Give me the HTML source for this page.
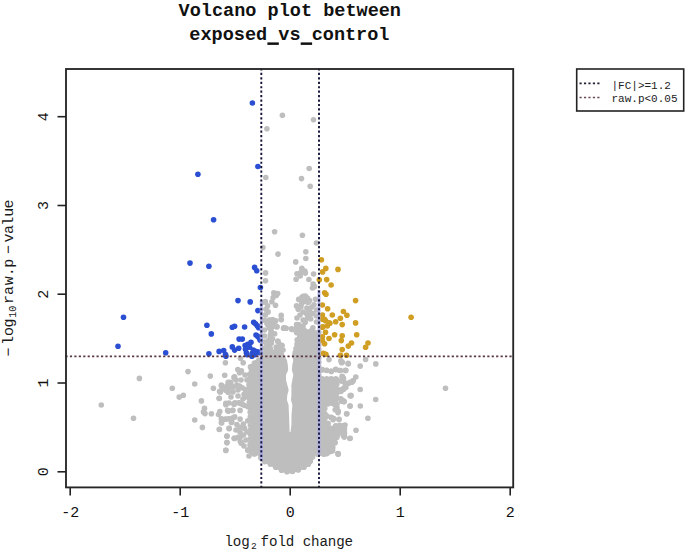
<!DOCTYPE html><html><head><meta charset="utf-8"><style>html,body{margin:0;padding:0;background:#fff;}svg{display:block}</style></head><body>
<svg width="685" height="549" viewBox="0 0 685 549">
<rect width="685" height="549" fill="#fff"/>
<g font-family="Liberation Mono, monospace" font-weight="bold" font-size="18.55" fill="#111" text-anchor="middle">
<text x="289.8" y="15.6">Volcano plot between</text>
<text x="289.4" y="40">exposed vs control</text>
<rect x="267.4" y="42.4" width="11.4" height="2.5" fill="#111"/><rect x="300.7" y="42.4" width="11.4" height="2.5" fill="#111"/>
</g>
<path fill="#bebebe" d="M262,352 L283,352 L288,357 L292.5,357 L295,352 L297,340 L297,327 L303,326 L310,331 L314,331 L320,330 L320,377.5 L338,377.5 L338,400 L330,404 L326,406 L326,426 L339,428 L339,436 L337,440 L334,445 L334,450 L328,455 L320,456 L315,455 L312.3,460 L310.5,463.7 L307.8,466.4 L301.4,470.1 L295.9,471.9 L289.6,473.5 L283.7,472.5 L278.3,470 L271.9,466.4 L267.3,464 L261.4,461.5 L258,455 L252,455 L249.5,450 L249,410 L248,400 L248.5,372 L252,365 L255,360 L262,358 Z"/>

<circle cx="284.7" cy="355.3" r="2.8" fill="#bebebe"/><circle cx="290.2" cy="358.2" r="2.8" fill="#bebebe"/><circle cx="294.8" cy="355.0" r="2.8" fill="#bebebe"/><circle cx="318.8" cy="332.2" r="2.8" fill="#bebebe"/><circle cx="318.8" cy="336.5" r="2.8" fill="#bebebe"/><circle cx="318.8" cy="340.8" r="2.8" fill="#bebebe"/><circle cx="318.8" cy="345.1" r="2.8" fill="#bebebe"/><circle cx="318.8" cy="349.4" r="2.8" fill="#bebebe"/><circle cx="318.8" cy="353.8" r="2.8" fill="#bebebe"/><circle cx="318.8" cy="358.1" r="2.8" fill="#bebebe"/><circle cx="318.8" cy="362.4" r="2.8" fill="#bebebe"/><circle cx="318.8" cy="366.7" r="2.8" fill="#bebebe"/><circle cx="318.8" cy="371.0" r="2.8" fill="#bebebe"/><circle cx="318.8" cy="375.3" r="2.8" fill="#bebebe"/><circle cx="322.2" cy="378.7" r="2.8" fill="#bebebe"/><circle cx="326.8" cy="378.7" r="2.8" fill="#bebebe"/><circle cx="331.2" cy="378.7" r="2.8" fill="#bebebe"/><circle cx="335.8" cy="378.7" r="2.8" fill="#bebebe"/><circle cx="336.8" cy="379.8" r="2.8" fill="#bebebe"/><circle cx="336.8" cy="384.2" r="2.8" fill="#bebebe"/><circle cx="336.8" cy="388.8" r="2.8" fill="#bebebe"/><circle cx="336.8" cy="393.2" r="2.8" fill="#bebebe"/><circle cx="336.8" cy="397.8" r="2.8" fill="#bebebe"/><circle cx="335.5" cy="399.9" r="2.8" fill="#bebebe"/><circle cx="331.5" cy="401.9" r="2.8" fill="#bebebe"/><circle cx="327.5" cy="403.9" r="2.8" fill="#bebebe"/><circle cx="324.8" cy="408.5" r="2.8" fill="#bebebe"/><circle cx="324.8" cy="413.5" r="2.8" fill="#bebebe"/><circle cx="324.8" cy="418.5" r="2.8" fill="#bebebe"/><circle cx="324.8" cy="423.5" r="2.8" fill="#bebebe"/><circle cx="328.0" cy="427.5" r="2.8" fill="#bebebe"/><circle cx="332.3" cy="428.2" r="2.8" fill="#bebebe"/><circle cx="336.7" cy="428.9" r="2.8" fill="#bebebe"/><circle cx="337.8" cy="432.0" r="2.8" fill="#bebebe"/><circle cx="336.9" cy="437.5" r="2.8" fill="#bebebe"/><circle cx="334.5" cy="441.9" r="2.8" fill="#bebebe"/><circle cx="332.8" cy="447.5" r="2.8" fill="#bebebe"/><circle cx="330.2" cy="451.6" r="2.8" fill="#bebebe"/><circle cx="323.9" cy="454.3" r="2.8" fill="#bebebe"/><circle cx="317.7" cy="454.3" r="2.8" fill="#bebebe"/><circle cx="312.6" cy="456.9" r="2.8" fill="#bebebe"/><circle cx="310.3" cy="461.3" r="2.8" fill="#bebebe"/><circle cx="308.3" cy="464.2" r="2.8" fill="#bebebe"/><circle cx="304.0" cy="467.2" r="2.8" fill="#bebebe"/><circle cx="298.3" cy="469.9" r="2.8" fill="#bebebe"/><circle cx="292.5" cy="471.5" r="2.8" fill="#bebebe"/><circle cx="286.9" cy="471.8" r="2.8" fill="#bebebe"/><circle cx="281.5" cy="470.2" r="2.8" fill="#bebebe"/><circle cx="275.7" cy="467.2" r="2.8" fill="#bebebe"/><circle cx="270.2" cy="464.1" r="2.8" fill="#bebebe"/><circle cx="264.8" cy="461.6" r="2.8" fill="#bebebe"/><circle cx="260.8" cy="457.7" r="2.8" fill="#bebebe"/><circle cx="255.0" cy="453.8" r="2.8" fill="#bebebe"/><circle cx="251.8" cy="452.0" r="2.8" fill="#bebebe"/><circle cx="250.7" cy="447.8" r="2.8" fill="#bebebe"/><circle cx="250.6" cy="443.3" r="2.8" fill="#bebebe"/><circle cx="250.6" cy="438.9" r="2.8" fill="#bebebe"/><circle cx="250.5" cy="434.4" r="2.8" fill="#bebebe"/><circle cx="250.4" cy="430.0" r="2.8" fill="#bebebe"/><circle cx="250.4" cy="425.5" r="2.8" fill="#bebebe"/><circle cx="250.3" cy="421.1" r="2.8" fill="#bebebe"/><circle cx="250.3" cy="416.7" r="2.8" fill="#bebebe"/><circle cx="250.2" cy="412.2" r="2.8" fill="#bebebe"/><circle cx="249.9" cy="407.4" r="2.8" fill="#bebebe"/><circle cx="249.4" cy="402.4" r="2.8" fill="#bebebe"/><circle cx="249.2" cy="397.7" r="2.8" fill="#bebebe"/><circle cx="249.3" cy="393.0" r="2.8" fill="#bebebe"/><circle cx="249.4" cy="388.4" r="2.8" fill="#bebebe"/><circle cx="249.5" cy="383.7" r="2.8" fill="#bebebe"/><circle cx="249.6" cy="379.0" r="2.8" fill="#bebebe"/><circle cx="249.7" cy="374.4" r="2.8" fill="#bebebe"/><circle cx="251.3" cy="369.0" r="2.8" fill="#bebebe"/><circle cx="254.5" cy="363.1" r="2.8" fill="#bebebe"/><circle cx="258.8" cy="360.2" r="2.8" fill="#bebebe"/><circle cx="263.2" cy="355.0" r="2.8" fill="#bebebe"/>
<path fill="#fff" d="M283.5,345 L284,350 L284.1,355 L286.9,360 L287.8,365 L288.2,370 L286,375 L286,380 L287.3,385 L288.7,390 L287.3,395 L286.9,400 L288.6,405 L289,415 L289.4,425 L289.6,432 L290.5,432 L291.4,425 L291.5,415 L292.4,405 L291,400 L291.4,395 L291.4,390 L291.4,385 L292.3,380 L293.3,375 L291.9,370 L292.3,365 L293.3,360 L291.4,355 L292.3,350 L294.4,345 L295,335 L290,333 Z"/>
<g fill="#bebebe"><circle cx="282.4" cy="115.3" r="2.80"/><circle cx="313.5" cy="119.7" r="2.80"/><circle cx="266.9" cy="128.7" r="2.80"/><circle cx="309.2" cy="168.5" r="2.80"/><circle cx="265.8" cy="177.5" r="2.80"/><circle cx="301.5" cy="178.6" r="2.80"/><circle cx="310.2" cy="186.2" r="2.80"/><circle cx="274.6" cy="231.7" r="2.80"/><circle cx="302.4" cy="235.2" r="2.80"/><circle cx="316.4" cy="243.0" r="2.80"/><circle cx="262.9" cy="247.6" r="2.80"/><circle cx="278.0" cy="254.1" r="2.80"/><circle cx="305.8" cy="251.7" r="2.80"/><circle cx="305.8" cy="258.5" r="2.80"/><circle cx="295.7" cy="261.9" r="2.80"/><circle cx="301.9" cy="268.4" r="2.80"/><circle cx="265.6" cy="272.9" r="2.80"/><circle cx="265.5" cy="280.7" r="2.80"/><circle cx="297.0" cy="273.8" r="2.80"/><circle cx="300.9" cy="272.4" r="2.80"/><circle cx="305.3" cy="273.1" r="2.80"/><circle cx="300.2" cy="276.0" r="2.80"/><circle cx="296.1" cy="279.3" r="2.80"/><circle cx="313.6" cy="274.0" r="2.80"/><circle cx="308.9" cy="279.5" r="2.80"/><circle cx="304.8" cy="271.1" r="2.80"/><circle cx="313.1" cy="284.1" r="2.80"/><circle cx="314.6" cy="286.6" r="2.80"/><circle cx="312.5" cy="288.0" r="2.80"/><circle cx="273.8" cy="292.9" r="2.80"/><circle cx="277.7" cy="293.5" r="2.80"/><circle cx="273.1" cy="297.5" r="2.80"/><circle cx="271.9" cy="301.7" r="2.80"/><circle cx="275.5" cy="305.2" r="2.80"/><circle cx="276.3" cy="295.5" r="2.80"/><circle cx="264.5" cy="302.2" r="2.80"/><circle cx="265.4" cy="301.6" r="2.80"/><circle cx="267.6" cy="305.9" r="2.80"/><circle cx="265.9" cy="309.2" r="2.80"/><circle cx="268.1" cy="311.9" r="2.80"/><circle cx="265.4" cy="314.9" r="2.80"/><circle cx="281.2" cy="315.4" r="2.80"/><circle cx="281.2" cy="319.6" r="2.80"/><circle cx="264.5" cy="320.3" r="2.80"/><circle cx="269.8" cy="320.1" r="2.80"/><circle cx="273.6" cy="320.7" r="2.80"/><circle cx="275.2" cy="321.2" r="2.80"/><circle cx="267.0" cy="323.4" r="2.80"/><circle cx="271.4" cy="323.4" r="2.80"/><circle cx="276.9" cy="326.7" r="2.80"/><circle cx="272.5" cy="326.7" r="2.80"/><circle cx="269.2" cy="327.8" r="2.80"/><circle cx="284.0" cy="327.8" r="2.80"/><circle cx="286.1" cy="328.3" r="2.80"/><circle cx="292.2" cy="329.4" r="2.80"/><circle cx="271.4" cy="332.2" r="2.80"/><circle cx="274.7" cy="333.8" r="2.80"/><circle cx="270.3" cy="336.5" r="2.80"/><circle cx="272.5" cy="338.7" r="2.80"/><circle cx="268.1" cy="340.9" r="2.80"/><circle cx="271.4" cy="343.1" r="2.80"/><circle cx="267.0" cy="345.3" r="2.80"/><circle cx="269.2" cy="347.5" r="2.80"/><circle cx="265.9" cy="350.7" r="2.80"/><circle cx="270.3" cy="351.8" r="2.80"/><circle cx="278.0" cy="341.4" r="2.80"/><circle cx="281.8" cy="345.3" r="2.80"/><circle cx="278.5" cy="347.5" r="2.80"/><circle cx="276.3" cy="350.7" r="2.80"/><circle cx="280.1" cy="351.8" r="2.80"/><circle cx="264.5" cy="330.0" r="2.80"/><circle cx="264.5" cy="336.0" r="2.80"/><circle cx="264.5" cy="342.0" r="2.80"/><circle cx="264.5" cy="348.0" r="2.80"/><circle cx="276.0" cy="355.0" r="2.80"/><circle cx="283.0" cy="350.0" r="2.80"/><circle cx="303.1" cy="296.4" r="2.80"/><circle cx="306.7" cy="297.9" r="2.80"/><circle cx="300.2" cy="299.3" r="2.80"/><circle cx="308.2" cy="302.2" r="2.80"/><circle cx="301.6" cy="303.7" r="2.80"/><circle cx="315.5" cy="299.3" r="2.80"/><circle cx="298.7" cy="299.4" r="2.80"/><circle cx="302.0" cy="297.2" r="2.80"/><circle cx="305.3" cy="296.1" r="2.80"/><circle cx="307.5" cy="298.3" r="2.80"/><circle cx="303.1" cy="301.6" r="2.80"/><circle cx="306.4" cy="301.6" r="2.80"/><circle cx="309.6" cy="300.5" r="2.80"/><circle cx="296.5" cy="305.9" r="2.80"/><circle cx="298.2" cy="309.2" r="2.80"/><circle cx="300.9" cy="307.0" r="2.80"/><circle cx="306.9" cy="308.1" r="2.80"/><circle cx="309.6" cy="309.2" r="2.80"/><circle cx="311.8" cy="307.0" r="2.80"/><circle cx="314.0" cy="304.8" r="2.80"/><circle cx="306.4" cy="313.6" r="2.80"/><circle cx="309.6" cy="314.7" r="2.80"/><circle cx="312.9" cy="313.6" r="2.80"/><circle cx="307.5" cy="318.0" r="2.80"/><circle cx="310.7" cy="319.0" r="2.80"/><circle cx="303.1" cy="320.1" r="2.80"/><circle cx="305.3" cy="322.3" r="2.80"/><circle cx="298.7" cy="324.5" r="2.80"/><circle cx="296.5" cy="327.8" r="2.80"/><circle cx="299.8" cy="327.8" r="2.80"/><circle cx="303.1" cy="326.1" r="2.80"/><circle cx="312.9" cy="327.8" r="2.80"/><circle cx="310.7" cy="331.1" r="2.80"/><circle cx="314.0" cy="332.2" r="2.80"/><circle cx="316.5" cy="310.0" r="2.80"/><circle cx="316.5" cy="316.0" r="2.80"/><circle cx="316.5" cy="322.0" r="2.80"/><circle cx="300.0" cy="315.0" r="2.80"/><circle cx="297.0" cy="318.0" r="2.80"/><circle cx="303.0" cy="312.0" r="2.80"/><circle cx="139.4" cy="378.4" r="2.80"/><circle cx="101.3" cy="405.0" r="2.80"/><circle cx="133.5" cy="418.2" r="2.80"/><circle cx="188.0" cy="371.6" r="2.80"/><circle cx="194.7" cy="384.0" r="2.80"/><circle cx="172.3" cy="388.2" r="2.80"/><circle cx="183.3" cy="395.2" r="2.80"/><circle cx="179.2" cy="397.1" r="2.80"/><circle cx="210.3" cy="376.1" r="2.80"/><circle cx="213.4" cy="388.3" r="2.80"/><circle cx="201.4" cy="400.9" r="2.80"/><circle cx="204.5" cy="408.4" r="2.80"/><circle cx="203.5" cy="411.9" r="2.80"/><circle cx="205.0" cy="413.6" r="2.80"/><circle cx="211.4" cy="413.8" r="2.80"/><circle cx="194.7" cy="420.0" r="2.80"/><circle cx="202.4" cy="427.4" r="2.80"/><circle cx="225.4" cy="362.8" r="2.80"/><circle cx="224.7" cy="375.2" r="2.80"/><circle cx="234.0" cy="377.4" r="2.80"/><circle cx="221.4" cy="386.1" r="2.80"/><circle cx="228.6" cy="384.0" r="2.80"/><circle cx="230.7" cy="382.9" r="2.80"/><circle cx="226.4" cy="387.8" r="2.80"/><circle cx="229.6" cy="387.8" r="2.80"/><circle cx="228.0" cy="391.6" r="2.80"/><circle cx="220.4" cy="391.9" r="2.80"/><circle cx="219.3" cy="398.5" r="2.80"/><circle cx="225.8" cy="404.7" r="2.80"/><circle cx="234.0" cy="404.2" r="2.80"/><circle cx="219.8" cy="411.5" r="2.80"/><circle cx="218.5" cy="414.5" r="2.80"/><circle cx="228.0" cy="410.7" r="2.80"/><circle cx="232.9" cy="410.2" r="2.80"/><circle cx="221.4" cy="418.7" r="2.80"/><circle cx="221.4" cy="422.6" r="2.80"/><circle cx="225.3" cy="419.3" r="2.80"/><circle cx="228.6" cy="418.7" r="2.80"/><circle cx="231.8" cy="422.0" r="2.80"/><circle cx="232.9" cy="417.7" r="2.80"/><circle cx="228.6" cy="411.1" r="2.80"/><circle cx="219.3" cy="429.5" r="2.80"/><circle cx="229.1" cy="428.4" r="2.80"/><circle cx="226.9" cy="436.2" r="2.80"/><circle cx="234.6" cy="438.4" r="2.80"/><circle cx="226.9" cy="442.6" r="2.80"/><circle cx="225.8" cy="450.4" r="2.80"/><circle cx="234.1" cy="403.8" r="2.80"/><circle cx="240.1" cy="403.3" r="2.80"/><circle cx="244.5" cy="405.5" r="2.80"/><circle cx="247.8" cy="406.6" r="2.80"/><circle cx="251.1" cy="401.6" r="2.80"/><circle cx="254.3" cy="404.4" r="2.80"/><circle cx="227.6" cy="410.4" r="2.80"/><circle cx="232.5" cy="410.4" r="2.80"/><circle cx="240.1" cy="410.4" r="2.80"/><circle cx="221.6" cy="419.1" r="2.80"/><circle cx="225.9" cy="419.1" r="2.80"/><circle cx="230.3" cy="419.1" r="2.80"/><circle cx="234.7" cy="416.9" r="2.80"/><circle cx="240.1" cy="419.1" r="2.80"/><circle cx="221.6" cy="423.0" r="2.80"/><circle cx="231.4" cy="422.4" r="2.80"/><circle cx="236.9" cy="424.6" r="2.80"/><circle cx="240.1" cy="427.3" r="2.80"/><circle cx="243.4" cy="424.0" r="2.80"/><circle cx="244.5" cy="428.4" r="2.80"/><circle cx="247.8" cy="420.8" r="2.80"/><circle cx="219.4" cy="429.3" r="2.80"/><circle cx="229.2" cy="428.4" r="2.80"/><circle cx="227.0" cy="436.1" r="2.80"/><circle cx="234.1" cy="438.3" r="2.80"/><circle cx="238.0" cy="437.2" r="2.80"/><circle cx="241.2" cy="436.1" r="2.80"/><circle cx="243.4" cy="435.0" r="2.80"/><circle cx="240.1" cy="441.0" r="2.80"/><circle cx="241.2" cy="443.2" r="2.80"/><circle cx="227.0" cy="442.6" r="2.80"/><circle cx="225.9" cy="450.3" r="2.80"/><circle cx="247.8" cy="450.3" r="2.80"/><circle cx="253.8" cy="453.6" r="2.80"/><circle cx="240.5" cy="358.2" r="2.80"/><circle cx="243.2" cy="362.7" r="2.80"/><circle cx="237.8" cy="369.6" r="2.80"/><circle cx="241.4" cy="370.9" r="2.80"/><circle cx="239.6" cy="372.8" r="2.80"/><circle cx="234.6" cy="376.9" r="2.80"/><circle cx="250.5" cy="366.8" r="2.80"/><circle cx="253.3" cy="365.9" r="2.80"/><circle cx="221.4" cy="385.1" r="2.80"/><circle cx="228.2" cy="382.3" r="2.80"/><circle cx="230.5" cy="382.3" r="2.80"/><circle cx="226.8" cy="386.0" r="2.80"/><circle cx="229.6" cy="385.1" r="2.80"/><circle cx="219.6" cy="391.4" r="2.80"/><circle cx="222.7" cy="388.7" r="2.80"/><circle cx="225.9" cy="390.5" r="2.80"/><circle cx="228.2" cy="392.3" r="2.80"/><circle cx="233.2" cy="386.9" r="2.80"/><circle cx="236.9" cy="385.1" r="2.80"/><circle cx="239.6" cy="386.0" r="2.80"/><circle cx="242.3" cy="387.8" r="2.80"/><circle cx="245.1" cy="389.6" r="2.80"/><circle cx="244.1" cy="394.2" r="2.80"/><circle cx="246.9" cy="395.1" r="2.80"/><circle cx="245.1" cy="396.9" r="2.80"/><circle cx="219.1" cy="398.3" r="2.80"/><circle cx="225.9" cy="403.3" r="2.80"/><circle cx="235.0" cy="402.8" r="2.80"/><circle cx="238.7" cy="402.8" r="2.80"/><circle cx="242.3" cy="404.2" r="2.80"/><circle cx="247.7" cy="450.0" r="2.80"/><circle cx="254.1" cy="453.7" r="2.80"/><circle cx="258.2" cy="452.8" r="2.80"/><circle cx="241.8" cy="442.8" r="2.80"/><circle cx="250.0" cy="445.0" r="2.80"/><circle cx="246.0" cy="440.0" r="2.80"/><circle cx="243.0" cy="399.0" r="2.80"/><circle cx="247.0" cy="380.0" r="2.80"/><circle cx="245.0" cy="375.0" r="2.80"/><circle cx="249.0" cy="385.0" r="2.80"/><circle cx="238.0" cy="396.0" r="2.80"/><circle cx="233.0" cy="392.0" r="2.80"/><circle cx="236.0" cy="380.0" r="2.80"/><circle cx="241.0" cy="380.0" r="2.80"/><circle cx="238.0" cy="390.0" r="2.80"/><circle cx="231.0" cy="397.0" r="2.80"/><circle cx="229.0" cy="403.0" r="2.80"/><circle cx="240.0" cy="432.0" r="2.80"/><circle cx="236.0" cy="430.0" r="2.80"/><circle cx="247.0" cy="432.0" r="2.80"/><circle cx="244.0" cy="446.0" r="2.80"/><circle cx="249.0" cy="456.0" r="2.80"/><circle cx="268.9" cy="320.2" r="2.80"/><circle cx="272.6" cy="319.5" r="2.80"/><circle cx="275.5" cy="320.9" r="2.80"/><circle cx="267.5" cy="324.6" r="2.80"/><circle cx="270.4" cy="325.3" r="2.80"/><circle cx="273.7" cy="326.0" r="2.80"/><circle cx="276.9" cy="326.7" r="2.80"/><circle cx="281.3" cy="319.5" r="2.80"/><circle cx="283.5" cy="328.2" r="2.80"/><circle cx="285.7" cy="328.2" r="2.80"/><circle cx="291.5" cy="328.9" r="2.80"/><circle cx="296.6" cy="324.6" r="2.80"/><circle cx="296.6" cy="332.6" r="2.80"/><circle cx="271.1" cy="331.1" r="2.80"/><circle cx="270.4" cy="334.8" r="2.80"/><circle cx="272.6" cy="333.3" r="2.80"/><circle cx="269.7" cy="339.9" r="2.80"/><circle cx="271.1" cy="342.8" r="2.80"/><circle cx="268.9" cy="345.7" r="2.80"/><circle cx="270.4" cy="348.6" r="2.80"/><circle cx="268.2" cy="351.5" r="2.80"/><circle cx="277.7" cy="341.3" r="2.80"/><circle cx="279.9" cy="344.9" r="2.80"/><circle cx="282.0" cy="345.7" r="2.80"/><circle cx="276.2" cy="347.1" r="2.80"/><circle cx="278.4" cy="349.3" r="2.80"/><circle cx="280.6" cy="350.1" r="2.80"/><circle cx="275.5" cy="351.5" r="2.80"/><circle cx="277.7" cy="353.0" r="2.80"/><circle cx="297.2" cy="339.9" r="2.80"/><circle cx="297.0" cy="344.2" r="2.80"/><circle cx="296.0" cy="348.6" r="2.80"/><circle cx="295.3" cy="352.2" r="2.80"/><circle cx="329.0" cy="359.6" r="2.80"/><circle cx="340.9" cy="360.9" r="2.80"/><circle cx="342.3" cy="362.3" r="2.80"/><circle cx="348.3" cy="364.0" r="2.80"/><circle cx="365.6" cy="359.5" r="2.80"/><circle cx="360.2" cy="366.1" r="2.80"/><circle cx="375.8" cy="363.9" r="2.80"/><circle cx="345.8" cy="370.4" r="2.80"/><circle cx="355.8" cy="377.0" r="2.80"/><circle cx="360.2" cy="389.5" r="2.80"/><circle cx="351.0" cy="395.8" r="2.80"/><circle cx="445.5" cy="388.2" r="2.80"/><circle cx="375.7" cy="399.5" r="2.80"/><circle cx="367.9" cy="418.3" r="2.80"/><circle cx="322.3" cy="369.6" r="2.80"/><circle cx="326.8" cy="370.5" r="2.80"/><circle cx="331.4" cy="371.4" r="2.80"/><circle cx="335.9" cy="369.6" r="2.80"/><circle cx="340.5" cy="370.5" r="2.80"/><circle cx="345.5" cy="370.5" r="2.80"/><circle cx="342.3" cy="376.9" r="2.80"/><circle cx="343.2" cy="379.6" r="2.80"/><circle cx="353.3" cy="380.5" r="2.80"/><circle cx="351.4" cy="382.3" r="2.80"/><circle cx="348.7" cy="383.2" r="2.80"/><circle cx="345.8" cy="383.4" r="2.80"/><circle cx="345.8" cy="387.5" r="2.80"/><circle cx="345.1" cy="386.9" r="2.80"/><circle cx="343.2" cy="388.7" r="2.80"/><circle cx="341.4" cy="389.6" r="2.80"/><circle cx="342.3" cy="400.5" r="2.80"/><circle cx="344.1" cy="401.4" r="2.80"/><circle cx="352.4" cy="381.8" r="2.80"/><circle cx="333.6" cy="403.3" r="2.80"/><circle cx="336.9" cy="404.4" r="2.80"/><circle cx="341.2" cy="401.1" r="2.80"/><circle cx="344.0" cy="401.6" r="2.80"/><circle cx="350.0" cy="406.0" r="2.80"/><circle cx="360.3" cy="406.0" r="2.80"/><circle cx="335.2" cy="409.8" r="2.80"/><circle cx="338.0" cy="412.6" r="2.80"/><circle cx="346.6" cy="413.7" r="2.80"/><circle cx="325.9" cy="416.4" r="2.80"/><circle cx="331.4" cy="417.5" r="2.80"/><circle cx="333.0" cy="419.7" r="2.80"/><circle cx="339.0" cy="419.5" r="2.80"/><circle cx="328.1" cy="424.0" r="2.80"/><circle cx="335.8" cy="426.2" r="2.80"/><circle cx="340.1" cy="426.2" r="2.80"/><circle cx="343.4" cy="425.7" r="2.80"/><circle cx="344.5" cy="429.0" r="2.80"/><circle cx="332.5" cy="432.8" r="2.80"/><circle cx="336.9" cy="431.7" r="2.80"/><circle cx="335.8" cy="435.0" r="2.80"/><circle cx="344.5" cy="432.8" r="2.80"/><circle cx="344.5" cy="436.1" r="2.80"/><circle cx="356.0" cy="430.2" r="2.80"/><circle cx="350.2" cy="438.3" r="2.80"/><circle cx="345.0" cy="425.0" r="2.80"/><circle cx="329.2" cy="439.3" r="2.80"/><circle cx="332.5" cy="441.0" r="2.80"/><circle cx="334.7" cy="442.6" r="2.80"/><circle cx="327.0" cy="442.6" r="2.80"/><circle cx="329.2" cy="445.9" r="2.80"/><circle cx="331.4" cy="448.1" r="2.80"/><circle cx="332.5" cy="450.3" r="2.80"/><circle cx="325.9" cy="450.3" r="2.80"/><circle cx="327.0" cy="453.6" r="2.80"/><circle cx="323.7" cy="452.5" r="2.80"/><circle cx="338.0" cy="453.6" r="2.80"/><circle cx="323.3" cy="453.7" r="2.80"/><circle cx="326.9" cy="451.9" r="2.80"/><circle cx="332.4" cy="450.0" r="2.80"/><circle cx="335.1" cy="442.8" r="2.80"/><circle cx="337.8" cy="434.6" r="2.80"/><circle cx="339.6" cy="431.8" r="2.80"/><circle cx="338.3" cy="454.1" r="2.80"/><circle cx="343.3" cy="435.5" r="2.80"/><circle cx="342.2" cy="376.4" r="2.80"/><circle cx="343.5" cy="378.4" r="2.80"/><circle cx="340.9" cy="381.0" r="2.80"/><circle cx="343.5" cy="381.7" r="2.80"/><circle cx="345.5" cy="386.9" r="2.80"/><circle cx="343.5" cy="389.5" r="2.80"/><circle cx="340.9" cy="391.5" r="2.80"/><circle cx="350.1" cy="382.3" r="2.80"/><circle cx="348.1" cy="363.3" r="2.80"/><circle cx="341.6" cy="362.7" r="2.80"/><circle cx="350.8" cy="395.4" r="2.80"/><circle cx="342.9" cy="400.9" r="2.80"/><circle cx="340.9" cy="398.9" r="2.80"/><circle cx="350.1" cy="395.7" r="2.80"/><circle cx="350.1" cy="406.1" r="2.80"/><circle cx="335.0" cy="404.8" r="2.80"/><circle cx="337.0" cy="408.1" r="2.80"/><circle cx="338.3" cy="411.4" r="2.80"/><circle cx="333.0" cy="403.5" r="2.80"/><circle cx="330.4" cy="402.9" r="2.80"/><circle cx="346.8" cy="413.7" r="2.80"/><circle cx="331.1" cy="417.3" r="2.80"/><circle cx="333.7" cy="418.6" r="2.80"/><circle cx="327.1" cy="416.0" r="2.80"/><circle cx="339.0" cy="419.3" r="2.80"/><circle cx="327.8" cy="423.2" r="2.80"/><circle cx="335.7" cy="425.8" r="2.80"/><circle cx="339.6" cy="425.2" r="2.80"/><circle cx="343.5" cy="425.8" r="2.80"/><circle cx="336.3" cy="429.1" r="2.80"/><circle cx="340.3" cy="429.1" r="2.80"/><circle cx="343.5" cy="428.4" r="2.80"/><circle cx="344.2" cy="434.5" r="2.80"/><circle cx="344.2" cy="437.1" r="2.80"/><circle cx="349.8" cy="438.5" r="2.80"/><circle cx="338.0" cy="453.9" r="2.80"/><circle cx="332.4" cy="451.0" r="2.80"/><circle cx="321.9" cy="369.9" r="2.80"/><circle cx="326.5" cy="370.2" r="2.80"/><circle cx="331.1" cy="371.2" r="2.80"/><circle cx="335.7" cy="369.2" r="2.80"/><circle cx="339.6" cy="370.5" r="2.80"/></g>
<g fill="#2b4fd2"><circle cx="252.4" cy="103.0" r="2.80"/><circle cx="197.9" cy="174.2" r="2.80"/><circle cx="257.9" cy="166.5" r="2.80"/><circle cx="213.6" cy="219.7" r="2.80"/><circle cx="190.0" cy="263.1" r="2.80"/><circle cx="208.9" cy="266.3" r="2.80"/><circle cx="254.6" cy="267.4" r="2.80"/><circle cx="256.7" cy="270.7" r="2.80"/><circle cx="123.5" cy="317.3" r="2.80"/><circle cx="118.0" cy="346.2" r="2.80"/><circle cx="165.7" cy="352.8" r="2.80"/><circle cx="206.9" cy="325.2" r="2.80"/><circle cx="211.3" cy="333.9" r="2.80"/><circle cx="208.9" cy="353.7" r="2.80"/><circle cx="260.4" cy="287.5" r="2.80"/><circle cx="238.0" cy="300.6" r="2.80"/><circle cx="250.2" cy="301.9" r="2.80"/><circle cx="257.9" cy="310.6" r="2.80"/><circle cx="232.3" cy="327.2" r="2.80"/><circle cx="234.6" cy="326.2" r="2.80"/><circle cx="244.6" cy="327.0" r="2.80"/><circle cx="253.7" cy="322.3" r="2.80"/><circle cx="255.5" cy="323.7" r="2.80"/><circle cx="257.4" cy="325.9" r="2.80"/><circle cx="258.7" cy="327.8" r="2.80"/><circle cx="256.0" cy="335.0" r="2.80"/><circle cx="257.8" cy="336.4" r="2.80"/><circle cx="259.6" cy="338.2" r="2.80"/><circle cx="260.1" cy="340.1" r="2.80"/><circle cx="239.1" cy="339.1" r="2.80"/><circle cx="242.3" cy="339.1" r="2.80"/><circle cx="232.3" cy="346.9" r="2.80"/><circle cx="234.6" cy="350.1" r="2.80"/><circle cx="238.7" cy="348.3" r="2.80"/><circle cx="245.1" cy="345.5" r="2.80"/><circle cx="247.8" cy="344.2" r="2.80"/><circle cx="251.0" cy="342.3" r="2.80"/><circle cx="245.5" cy="349.2" r="2.80"/><circle cx="246.4" cy="352.8" r="2.80"/><circle cx="246.9" cy="354.6" r="2.80"/><circle cx="249.6" cy="347.3" r="2.80"/><circle cx="253.3" cy="350.1" r="2.80"/><circle cx="255.5" cy="351.4" r="2.80"/><circle cx="257.8" cy="351.9" r="2.80"/><circle cx="260.1" cy="352.8" r="2.80"/><circle cx="252.3" cy="353.3" r="2.80"/><circle cx="255.1" cy="354.6" r="2.80"/><circle cx="219.1" cy="351.4" r="2.80"/><circle cx="223.7" cy="350.5" r="2.80"/><circle cx="225.5" cy="354.6" r="2.80"/><circle cx="225.9" cy="356.2" r="2.80"/><circle cx="251.9" cy="356.2" r="2.80"/></g>
<g fill="#cf9e22"><circle cx="321.4" cy="259.8" r="2.80"/><circle cx="325.8" cy="268.4" r="2.80"/><circle cx="322.6" cy="271.9" r="2.80"/><circle cx="338.0" cy="269.4" r="2.80"/><circle cx="319.3" cy="279.8" r="2.80"/><circle cx="326.7" cy="279.6" r="2.80"/><circle cx="331.1" cy="285.0" r="2.80"/><circle cx="324.6" cy="292.7" r="2.80"/><circle cx="326.0" cy="294.3" r="2.80"/><circle cx="355.6" cy="300.6" r="2.80"/><circle cx="322.4" cy="305.0" r="2.80"/><circle cx="327.6" cy="308.7" r="2.80"/><circle cx="343.4" cy="311.5" r="2.80"/><circle cx="346.9" cy="315.3" r="2.80"/><circle cx="332.3" cy="315.0" r="2.80"/><circle cx="322.4" cy="315.0" r="2.80"/><circle cx="340.4" cy="318.3" r="2.80"/><circle cx="324.6" cy="319.2" r="2.80"/><circle cx="329.9" cy="323.2" r="2.80"/><circle cx="335.7" cy="321.7" r="2.80"/><circle cx="342.2" cy="324.6" r="2.80"/><circle cx="355.6" cy="322.9" r="2.80"/><circle cx="411.1" cy="317.3" r="2.80"/><circle cx="322.9" cy="326.7" r="2.80"/><circle cx="327.3" cy="326.0" r="2.80"/><circle cx="322.4" cy="319.3" r="2.80"/><circle cx="325.5" cy="320.7" r="2.80"/><circle cx="329.0" cy="322.8" r="2.80"/><circle cx="322.4" cy="327.2" r="2.80"/><circle cx="325.5" cy="332.2" r="2.80"/><circle cx="334.6" cy="334.8" r="2.80"/><circle cx="342.2" cy="335.7" r="2.80"/><circle cx="356.7" cy="334.8" r="2.80"/><circle cx="322.4" cy="336.8" r="2.80"/><circle cx="329.0" cy="338.5" r="2.80"/><circle cx="322.4" cy="340.6" r="2.80"/><circle cx="324.6" cy="343.8" r="2.80"/><circle cx="341.3" cy="340.6" r="2.80"/><circle cx="351.5" cy="343.0" r="2.80"/><circle cx="348.3" cy="346.1" r="2.80"/><circle cx="368.0" cy="343.0" r="2.80"/><circle cx="365.6" cy="347.3" r="2.80"/><circle cx="342.2" cy="349.6" r="2.80"/><circle cx="323.4" cy="353.4" r="2.80"/><circle cx="325.9" cy="354.3" r="2.80"/><circle cx="340.4" cy="355.2" r="2.80"/><circle cx="346.5" cy="355.2" r="2.80"/></g>
<g stroke="#aeaee6" stroke-width="3" opacity="0.9">
<line x1="261.3" y1="300" x2="261.3" y2="461"/>
<line x1="319.0" y1="290" x2="319.0" y2="455"/>
</g>
<g stroke-width="1.9" stroke-dasharray="2.2 2.24" fill="none">
<line x1="261.3" y1="68.4" x2="261.3" y2="487" stroke="#15153a"/>
<line x1="319.0" y1="68.4" x2="319.0" y2="487" stroke="#15153a"/>
<line x1="65.44" y1="356.4" x2="513" y2="356.4" stroke="#5a3842"/>
</g>
<rect x="66" y="69" width="447.2" height="418.4" fill="none" stroke="#262626" stroke-width="1.85"/>
<g stroke="#222" stroke-width="1.6">
<line x1="70.2" y1="487" x2="70.2" y2="495.5"/>
<line x1="180.2" y1="487" x2="180.2" y2="495.5"/>
<line x1="290.2" y1="487" x2="290.2" y2="495.5"/>
<line x1="400.2" y1="487" x2="400.2" y2="495.5"/>
<line x1="510.2" y1="487" x2="510.2" y2="495.5"/>
<line x1="57.5" y1="471.8" x2="66" y2="471.8"/>
<line x1="57.5" y1="383.0" x2="66" y2="383.0"/>
<line x1="57.5" y1="294.2" x2="66" y2="294.2"/>
<line x1="57.5" y1="205.5" x2="66" y2="205.5"/>
<line x1="57.5" y1="116.7" x2="66" y2="116.7"/>
</g>
<g font-family="Liberation Mono, monospace" font-size="15" fill="#111" text-anchor="middle">
<text x="70.2" y="517">-2</text>
<text x="180.2" y="517">-1</text>
<text x="290.2" y="517">0</text>
<text x="400.2" y="517">1</text>
<text x="510.2" y="517">2</text>
<text transform="translate(48,471.8) rotate(-90)" x="0" y="0">0</text>
<text transform="translate(48,383.0) rotate(-90)" x="0" y="0">1</text>
<text transform="translate(48,294.2) rotate(-90)" x="0" y="0">2</text>
<text transform="translate(48,205.5) rotate(-90)" x="0" y="0">3</text>
<text transform="translate(48,116.7) rotate(-90)" x="0" y="0">4</text>
</g>
<g font-family="Liberation Mono, monospace" fill="#1a1a1a" text-anchor="middle">
<g transform="translate(0,546) scale(1,1.08) translate(0,-546)"><text x="228.7" y="546.0" font-size="14.2" >l</text><text x="236.9" y="546.0" font-size="14.2" >o</text><text x="245.5" y="546.0" font-size="14.2" >g</text><text x="264.9" y="546.0" font-size="14.2" >f</text><text x="273.3" y="546.0" font-size="14.2" >o</text><text x="281.7" y="546.0" font-size="14.2" >l</text><text x="290.1" y="546.0" font-size="14.2" >d</text><text x="306.9" y="546.0" font-size="14.2" >c</text><text x="315.3" y="546.0" font-size="14.2" >h</text><text x="323.7" y="546.0" font-size="14.2" >a</text><text x="332.1" y="546.0" font-size="14.2" >n</text><text x="340.5" y="546.0" font-size="14.2" >g</text><text x="348.9" y="546.0" font-size="14.2" >e</text></g>
<text x="253.8" y="548.6" font-size="9.5">2</text>
<g transform="translate(13.0,356) rotate(-90)">
<text x="4.1" y="0" font-size="15">−</text><text x="15.6" y="0" font-size="15">l</text><text x="24.4" y="0" font-size="15">o</text><text x="33.0" y="0" font-size="15">g</text><text x="56.5" y="0" font-size="15">r</text><text x="65.5" y="0" font-size="15">a</text><text x="75.3" y="0" font-size="15">w</text><text x="84.3" y="0" font-size="15">.</text><text x="92.8" y="0" font-size="15">p</text><text x="106.5" y="0" font-size="15">−</text><text x="117.9" y="0" font-size="15">v</text><text x="126.4" y="0" font-size="15">a</text><text x="134.7" y="0" font-size="15">l</text><text x="143.8" y="0" font-size="15">u</text><text x="152.0" y="0" font-size="15">e</text>
<text x="47.4" y="3.4" font-size="10.2">0</text><text x="41.3" y="3.4" font-size="10.2">1</text>
</g>
</g>
<rect x="576.7" y="69" width="107" height="42" fill="none" stroke="#222" stroke-width="1.6"/>
<g stroke-width="1.6" stroke-dasharray="2.2 2.25">
<line x1="579.5" y1="83.4" x2="600" y2="83.4" stroke="#202035"/>
<line x1="579.5" y1="97.5" x2="600" y2="97.5" stroke="#6a4a52"/>
</g>
<g font-family="Liberation Mono, monospace" font-size="11" fill="#222">
<text x="611.5" y="88.9">|FC|&gt;=1.2</text>
<text x="611.5" y="102.3">raw.p&lt;0.05</text>
</g>
</svg></body></html>
